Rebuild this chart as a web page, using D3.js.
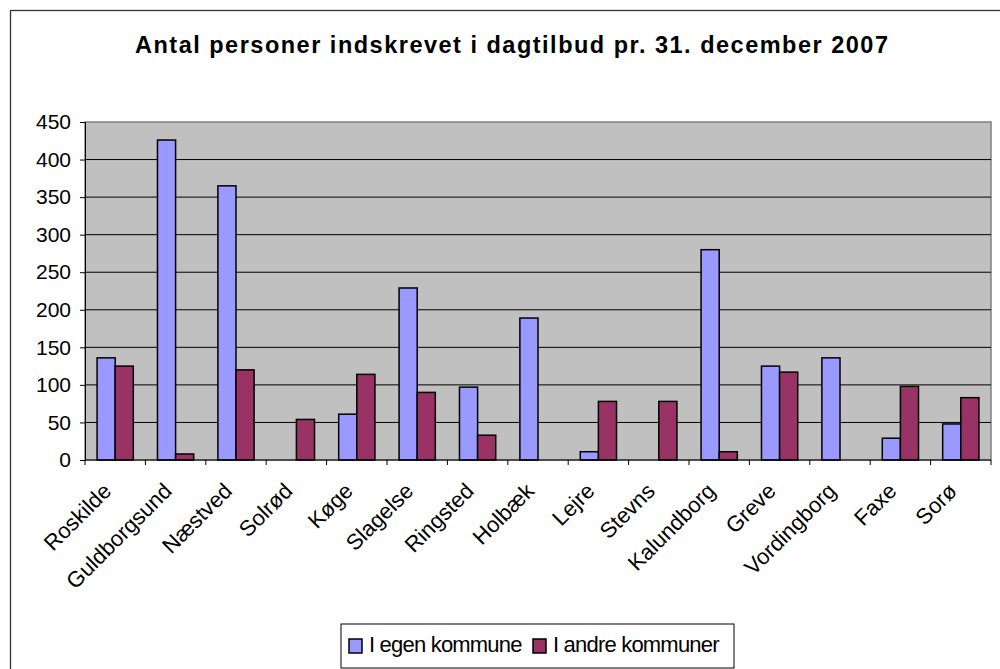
<!DOCTYPE html>
<html><head><meta charset="utf-8">
<script src="https://cdn.jsdelivr.net/npm/d3@7"></script>
<style>body{margin:0;background:#fff}svg{display:block;font-family:"Liberation Sans",Arial,sans-serif}</style>
</head><body><svg id="c" width="1000" height="669"></svg>
<script>
const categories = ["Roskilde","Guldborgsund","Næstved","Solrød","Køge","Slagelse","Ringsted","Holbæk","Lejre","Stevns","Kalundborg","Greve","Vordingborg","Faxe","Sorø"];
const seriesNames = ["I egen kommune","I andre kommuner"];
const egen = [136,426,365,0,61,229,97,189,11,0,280,125,136,29,48];
const andre = [125,8,120,54,114,90,33,0,78,78,11,117,0,98,83];
const yTicks = [0,50,100,150,200,250,300,350,400,450];
const colors = ["#9999FF","#993366"];
const title = "Antal personer indskrevet i dagtilbud pr. 31. december 2007";

const svg = d3.select("#c");
const L=85,R=991,T=122,B=460;
svg.append("rect").attr("x",10.5).attr("y",10.5).attr("width",1000).attr("height",700)
  .attr("fill","#fff").attr("stroke","#333").attr("stroke-width",1.3);

svg.append("text").attr("x",511.5).attr("y",53).attr("text-anchor","middle")
  .attr("font-weight","bold").attr("font-size",23.5)
  .attr("textLength",753).attr("lengthAdjust","spacing").text(title);

const x = d3.scaleBand().domain(categories).range([L,R]).paddingInner(0.4).paddingOuter(0.2);
const xs = d3.scaleBand().domain(seriesNames).range([0,x.bandwidth()]);
const y = d3.scaleLinear().domain([0,450]).range([B,T]);

svg.append("rect").attr("x",L).attr("y",T).attr("width",R-L).attr("height",B-T)
  .attr("fill","#C0C0C0").attr("stroke","#808080").attr("stroke-width",1.5);

svg.append("g").selectAll("line").data(yTicks.filter(d=>d>0&&d<450)).join("line")
  .attr("x1",L).attr("x2",R).attr("y1",d=>y(d)).attr("y2",d=>y(d))
  .attr("stroke","#000").attr("stroke-width",1);

const yAxis = svg.append("g").attr("transform",`translate(${L},0)`)
  .call(d3.axisLeft(y).tickValues(yTicks).tickSize(5).tickPadding(9));
yAxis.select(".domain").attr("stroke","#000");
yAxis.selectAll("text").attr("font-size",21).attr("fill","#000").attr("font-family","Liberation Sans, Arial");

const data = categories.map((c,i)=>({c, vals:[egen[i],andre[i]]}));
const g = svg.append("g").selectAll("g").data(data).join("g")
  .attr("transform",d=>`translate(${x(d.c)},0)`);
g.selectAll("rect").data(d=>d.vals.map((v,j)=>({v,s:seriesNames[j],j}))).join("rect")
  .filter(d=>d.v>0)
  .attr("x",d=>xs(d.s)).attr("width",xs.bandwidth())
  .attr("y",d=>y(d.v)).attr("height",d=>B-y(d.v))
  .attr("fill",d=>colors[d.j]).attr("stroke","#000").attr("stroke-width",1.5);

// x axis
const step = x.step();
svg.append("line").attr("x1",L).attr("x2",R).attr("y1",B).attr("y2",B).attr("stroke","#000");
svg.append("g").selectAll("line").data(d3.range(categories.length+1)).join("line")
  .attr("x1",i=>L+i*step).attr("x2",i=>L+i*step).attr("y1",B).attr("y2",B+5).attr("stroke","#000");
svg.append("g").selectAll("text").data(categories).join("text")
  .attr("transform",d=>`translate(${x(d)+x.bandwidth()/2-8},${B+27}) rotate(-45)`)
  .attr("text-anchor","end").attr("font-size",22).attr("dy","0.35em").text(d=>d);

// legend
const lg = svg.append("g");
lg.append("rect").attr("x",341).attr("y",624).attr("width",393).attr("height",44)
  .attr("fill","#fff").attr("stroke","#000").attr("stroke-width",1);
const lx=[349,533];
seriesNames.forEach((s,j)=>{
  lg.append("rect").attr("x",lx[j]).attr("y",639).attr("width",13).attr("height",14)
    .attr("fill",colors[j]).attr("stroke","#000").attr("stroke-width",1.5);
  lg.append("text").attr("x",lx[j]+20).attr("y",652).attr("font-size",22).attr("letter-spacing",-0.8).text(s);
});
</script></body></html>
